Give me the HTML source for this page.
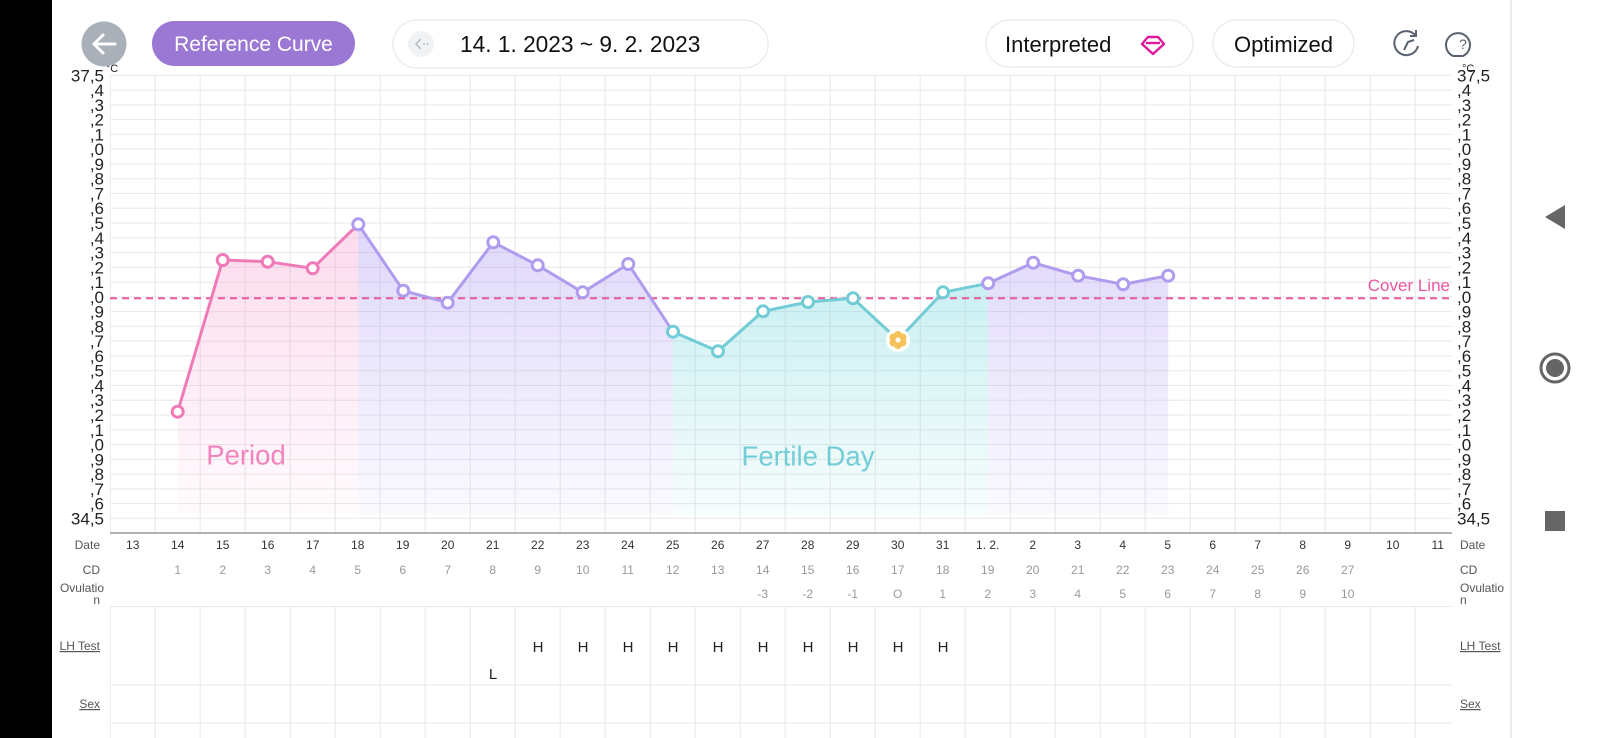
<!DOCTYPE html>
<html><head><meta charset="utf-8"><style>
html,body{margin:0;padding:0;background:#fff;}
svg{display:block;font-family:"Liberation Sans",sans-serif;}
</style></head><body>
<svg width="1600" height="738" viewBox="0 0 1600 738" xmlns="http://www.w3.org/2000/svg">
<defs>
<linearGradient id="gp" gradientUnits="userSpaceOnUse" x1="0" y1="220" x2="0" y2="515"><stop offset="0" stop-color="#f48cc4" stop-opacity="0.32"/><stop offset="1" stop-color="#f48cc4" stop-opacity="0.03"/></linearGradient>
<linearGradient id="gv" gradientUnits="userSpaceOnUse" x1="0" y1="220" x2="0" y2="515"><stop offset="0" stop-color="#a996f2" stop-opacity="0.38"/><stop offset="1" stop-color="#a996f2" stop-opacity="0.05"/></linearGradient>
<linearGradient id="gt" gradientUnits="userSpaceOnUse" x1="0" y1="280" x2="0" y2="515"><stop offset="0" stop-color="#72d6dc" stop-opacity="0.38"/><stop offset="1" stop-color="#72d6dc" stop-opacity="0.05"/></linearGradient>
<clipPath id="pc"><rect x="110" y="70" width="1342" height="668"/></clipPath>
</defs>
<rect x="0" y="0" width="52" height="738" fill="#000"/>
<line x1="1511" y1="0" x2="1511" y2="738" stroke="#e6e6e6" stroke-width="1.5"/>

<g clip-path="url(#pc)" stroke="#e6e6e6" stroke-width="1">
<g id="vg"></g>
</g>
<g id="hg" stroke="#e8e8e8" stroke-width="1"></g>

<polygon fill="url(#gp)" points="177.7,411.7 222.7,260 267.7,261.7 312.7,268.3 358.3,224.3 358.3,515 177.7,515"/>
<polygon fill="url(#gv)" points="358.3,224.3 403.3,290.7 447.7,302.7 493.3,242.3 537.7,265.3 582.7,292.3 628.3,264 673,331.7 673,515 358.3,515"/>
<polygon fill="url(#gt)" points="673,331.7 718,351.3 763,311.3 808,302 853,298.3 898,340 943,292.3 988.2,283.3 988.2,515 673,515"/>
<polygon fill="url(#gv)" points="988.2,283.3 1033.2,262.7 1078.2,275.7 1123.2,284.3 1168.2,275.7 1168.2,515 988.2,515"/>

<line x1="110" y1="298.3" x2="1452" y2="298.3" stroke="#e8579f" stroke-width="2" stroke-dasharray="7,5"/>
<text x="1450" y="291" font-size="17" fill="#e8579f" text-anchor="end">Cover Line</text>

<text x="246" y="457" font-size="27.5" fill="#f283bf" text-anchor="middle" dominant-baseline="middle">Period</text>
<text x="808" y="458" font-size="27.5" fill="#73cdd6" text-anchor="middle" dominant-baseline="middle">Fertile Day</text>

<g fill="none" stroke-width="3" stroke-linejoin="round">
<polyline stroke="#f07ab8" points="177.7,411.7 222.7,260 267.7,261.7 312.7,268.3 358.3,224.3"/>
<polyline stroke="#b09cee" points="358.3,224.3 403.3,290.7 447.7,302.7 493.3,242.3 537.7,265.3 582.7,292.3 628.3,264 673,331.7"/>
<polyline stroke="#72ccd6" points="673,331.7 718,351.3 763,311.3 808,302 853,298.3 898,340 943,292.3 988.2,283.3"/>
<polyline stroke="#b09cee" points="988.2,283.3 1033.2,262.7 1078.2,275.7 1123.2,284.3 1168.2,275.7"/>
</g>
<g fill="#fff" stroke-width="3">
<g stroke="#f07ab8"><circle cx="177.7" cy="411.7" r="5.5"/><circle cx="222.7" cy="260" r="5.5"/><circle cx="267.7" cy="261.7" r="5.5"/><circle cx="312.7" cy="268.3" r="5.5"/></g>
<g stroke="#b09cee"><circle cx="358.3" cy="224.3" r="5.5"/><circle cx="403.3" cy="290.7" r="5.5"/><circle cx="447.7" cy="302.7" r="5.5"/><circle cx="493.3" cy="242.3" r="5.5"/><circle cx="537.7" cy="265.3" r="5.5"/><circle cx="582.7" cy="292.3" r="5.5"/><circle cx="628.3" cy="264" r="5.5"/>
<circle cx="988.2" cy="283.3" r="5.5"/><circle cx="1033.2" cy="262.7" r="5.5"/><circle cx="1078.2" cy="275.7" r="5.5"/><circle cx="1123.2" cy="284.3" r="5.5"/><circle cx="1168.2" cy="275.7" r="5.5"/></g>
<g stroke="#72ccd6"><circle cx="673" cy="331.7" r="5.5"/><circle cx="718" cy="351.3" r="5.5"/><circle cx="763" cy="311.3" r="5.5"/><circle cx="808" cy="302" r="5.5"/><circle cx="853" cy="298.3" r="5.5"/><circle cx="943" cy="292.3" r="5.5"/></g>
</g>
<g transform="translate(898,340)">
<circle r="12" fill="#fff"/>
<g fill="#f5c15a"><circle cx="0" cy="-5" r="4"/><circle cx="4.5" cy="-2.5" r="4"/><circle cx="4.5" cy="2.5" r="4"/><circle cx="0" cy="5" r="4"/><circle cx="-4.5" cy="2.5" r="4"/><circle cx="-4.5" cy="-2.5" r="4"/></g>
<circle r="2.5" fill="#fff"/>
</g>

<line x1="110" y1="533" x2="1452" y2="533" stroke="#999" stroke-width="1.5"/>

<g id="ylab" font-size="17" fill="#222"></g>
<text x="112" y="72" font-size="11" fill="#222" text-anchor="middle">°C</text>
<text x="1462" y="72" font-size="11" fill="#222">°C</text>

<g id="bot" font-size="12"></g>

<g font-size="12" fill="#555">
<text x="100" y="549" text-anchor="end">Date</text>
<text x="100" y="574" text-anchor="end">CD</text>
<text x="104" y="592" text-anchor="end">Ovulatio</text>
<text x="100" y="604" text-anchor="end">n</text>
<text x="100" y="650" text-anchor="end" text-decoration="underline">LH Test</text>
<text x="100" y="708" text-anchor="end" text-decoration="underline">Sex</text>
<text x="1460" y="549">Date</text>
<text x="1460" y="574">CD</text>
<text x="1460" y="592">Ovulatio</text>
<text x="1460" y="604">n</text>
<text x="1460" y="650" text-decoration="underline">LH Test</text>
<text x="1460" y="708" text-decoration="underline">Sex</text>
</g>
<g stroke="#e8e8e8" stroke-width="1">
<line x1="110" y1="606.5" x2="1452" y2="606.5"/>
<line x1="110" y1="685" x2="1452" y2="685"/>
<line x1="110" y1="723" x2="1452" y2="723"/>
</g>
<g font-size="15" fill="#222" text-anchor="middle">
<text x="493" y="679">L</text>
<text x="538" y="652">H</text><text x="583" y="652">H</text><text x="628" y="652">H</text><text x="673" y="652">H</text><text x="718" y="652">H</text><text x="763" y="652">H</text><text x="808" y="652">H</text><text x="853" y="652">H</text><text x="898" y="652">H</text><text x="943" y="652">H</text>
</g>

<circle cx="104" cy="44" r="22.5" fill="#a9b0b8"/>
<path d="M115 44 H94 M103 35 L94 44 L103 53" stroke="#fff" stroke-width="3" fill="none" stroke-linecap="round" stroke-linejoin="round"/>
<rect x="152" y="21" width="203" height="45" rx="22.5" fill="#9b78d3"/>
<text x="253.5" y="51" font-size="21" fill="#fff" text-anchor="middle">Reference Curve</text>
<rect x="393" y="20" width="375" height="48" rx="24" fill="#fff" stroke="#ececec" stroke-width="1.5"/>
<circle cx="421" cy="44" r="13" fill="#f1f2f4"/>
<path d="M421 39 L416 44 L421 49" stroke="#b8bcc2" stroke-width="1.5" fill="none"/>
<circle cx="424" cy="44" r="1" fill="#b8bcc2"/><circle cx="427.5" cy="44" r="1" fill="#b8bcc2"/>
<text x="460" y="52" font-size="22.7" fill="#111">14. 1. 2023 ~ 9. 2. 2023</text>
<rect x="986" y="20" width="207" height="47" rx="23.5" fill="#fff" stroke="#ececec" stroke-width="1.5"/>
<text x="1005" y="52" font-size="22" fill="#111">Interpreted</text>
<g fill="none" stroke="#e0189a" stroke-width="2.4" stroke-linejoin="round">
<path d="M1148 37 L1158 37 L1164 44 L1153 54 L1142 44 Z"/>
<path d="M1146 43 L1160 43"/>
</g>
<rect x="1213" y="20" width="141" height="47" rx="23.5" fill="#fff" stroke="#ececec" stroke-width="1.5"/>
<text x="1283.5" y="52" font-size="22" fill="#111" text-anchor="middle">Optimized</text>
<g fill="none" stroke="#5a6270" stroke-width="2">
<path d="M1416 36 A12 12 0 1 0 1418 46"/>
<path d="M1410 36 L1416 36 L1416 30" />
<path d="M1404 50 L1408 42 L1414 40"/>
<path d="M1463 56 L1453 56 A12 12 0 1 1 1463 56 Z"/>
</g>
<text x="1463" y="49" font-size="14" fill="#5a6270" text-anchor="middle">?</text>

<path d="M1565 205 L1565 229 L1545 217 Z" fill="#666"/>
<circle cx="1555" cy="368" r="14" fill="none" stroke="#666" stroke-width="3"/>
<circle cx="1555" cy="368" r="9" fill="#666"/>
<rect x="1545" y="511" width="20" height="20" fill="#666"/>

<script>
(function(){
var ns="http://www.w3.org/2000/svg";
function el(p,n,a,t){var e=document.createElementNS(ns,n);for(var k in a)e.setAttribute(k,a[k]);if(t!=null)e.textContent=t;p.appendChild(e);return e;}
var vg=document.getElementById('vg');
for(var k=0;k<=30;k++){var x=110.2+45*k;el(vg,'line',{x1:x,y1:75,x2:x,y2:533});el(vg,'line',{x1:x,y1:606,x2:x,y2:738});}
var hg=document.getElementById('hg');
for(var k=0;k<31;k++){var y=75.3+14.77*k;el(hg,'line',{x1:110,y1:y,x2:1452,y2:y});}
var yl=document.getElementById('ylab');
var digs=[5,4,3,2,1,0,9,8,7,6,5,4,3,2,1,0,9,8,7,6,5,4,3,2,1,0,9,8,7,6,5];
for(var k=0;k<=30;k++){var y=75.3+14.77*k+6;var t=(k==0?'37,5':(k==30?'34,5':','+digs[k]));
el(yl,'text',{x:104,y:y,'text-anchor':'end'},t);el(yl,'text',{x:1457,y:y},t);}
var bot=document.getElementById('bot');
var dates=[];for(var d=13;d<=31;d++)dates.push(''+d);dates.push('1. 2.');for(var d=2;d<=11;d++)dates.push(''+d);
for(var i=0;i<30;i++){var cx=110.2+45*(i+0.5);
el(bot,'text',{x:cx,y:549,'text-anchor':'middle',fill:'#333'},dates[i]);
if(i>=1&&i<=27)el(bot,'text',{x:cx,y:574,'text-anchor':'middle',fill:'#999'},''+i);
if(i>=14&&i<=27){var o=i-17;el(bot,'text',{x:cx,y:598,'text-anchor':'middle',fill:'#999'},o==0?'O':''+o);}
}
})();
</script>
</svg>
</body></html>
